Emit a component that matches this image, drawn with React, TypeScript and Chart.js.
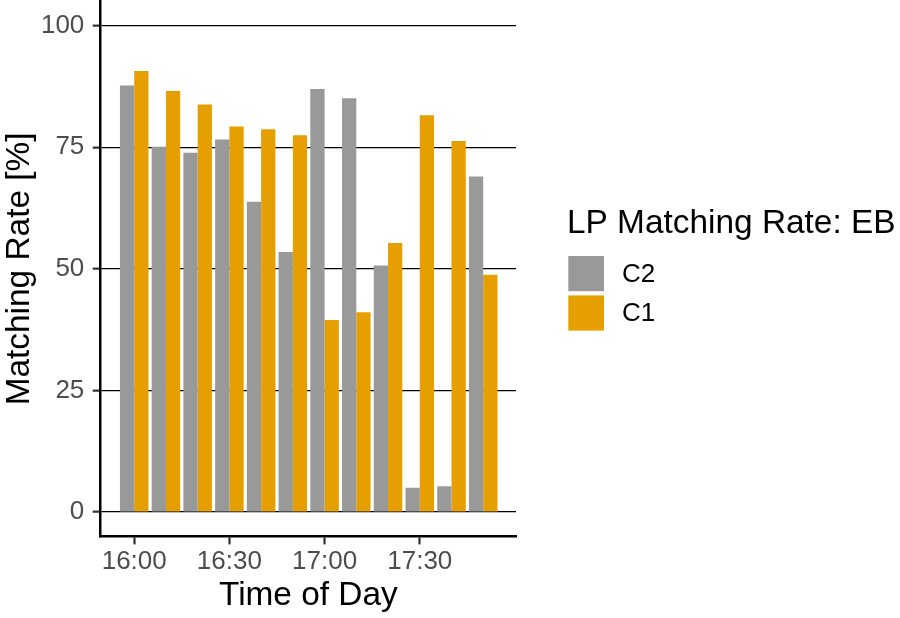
import React, { useEffect, useRef } from 'react';
import { Chart, registerables } from 'chart.js';

Chart.register(...registerables);

// ---- data ----
const times = ['16:00', '16:10', '16:20', '16:30', '16:40', '16:50', '17:00', '17:10', '17:20', '17:30', '17:40', '17:50'];
const c2Values = [87.7, 75.1, 73.9, 76.6, 63.8, 53.5, 87.0, 85.1, 50.7, 5.0, 5.3, 69.0];
const c1Values = [90.7, 86.6, 83.8, 79.3, 78.7, 77.5, 39.5, 41.1, 55.3, 81.6, 76.3, 48.8];
const seriesNames = ['C2', 'C1'];
const seriesColors = ['#999999', '#E69F00'];
const xTickLabels = ['16:00', '16:30', '17:00', '17:30'];
const yTickValues = [0, 25, 50, 75, 100];
const legendTitle = 'LP Matching Rate: EB';
const xTitle = 'Time of Day';
const yTitle = 'Matching Rate [%]';

const FONT = '"Liberation Sans", Arial, Helvetica, sans-serif';
const TITLE_SIZE = 33.4;
const TEXT_SIZE = 26;

const toMinutes = (t: string) => {
  const [h, m] = t.split(':').map(Number);
  return (h - 16) * 60 + m;
};

const sideLegend = {
  id: 'sideLegend',
  afterDraw(chart: any) {
    const { ctx, chartArea } = chart;
    const x0 = chartArea.right + 51;
    const mid = (chartArea.top + chartArea.bottom) / 2;
    ctx.save();
    ctx.textAlign = 'left';
    ctx.fillStyle = '#000000';
    ctx.font = `${TITLE_SIZE}px ${FONT}`;
    ctx.textBaseline = 'alphabetic';
    ctx.fillText(legendTitle, x0, mid - 35.6);
    chart.data.datasets.forEach((ds: any, i: number) => {
      const top = mid - 12.9 + i * 39.4;
      ctx.fillStyle = ds.backgroundColor;
      ctx.fillRect(x0 + 1.3, top, 35.7, 35.2);
      ctx.fillStyle = '#000000';
      ctx.font = `${TEXT_SIZE}px ${FONT}`;
      ctx.textBaseline = 'middle';
      ctx.fillText(ds.label, x0 + 55, top + 18.6);
    });
    ctx.restore();
  },
};

export default function App() {
  const ref = useRef<HTMLCanvasElement>(null);

  useEffect(() => {
    if (!ref.current) return;
    const datasets = [c2Values, c1Values].map((vals, si) => ({
      label: seriesNames[si],
      data: times.map((t, i) => ({ x: toMinutes(t), y: vals[i] })),
      backgroundColor: seriesColors[si],
      borderWidth: 0,
      categoryPercentage: 0.9,
      barPercentage: 1.0,
      yAxisID: 'y',
      xAxisID: 'x',
    }));

    const chart = new Chart(ref.current, {
      type: 'bar',
      data: { datasets },
      plugins: [sideLegend],
      options: {
        animation: false,
        responsive: false,
        devicePixelRatio: 1,
        font: { family: FONT },
        layout: { padding: { top: 1.4, right: 384, bottom: 0, left: 0 } },
        plugins: {
          legend: { display: false },
          tooltip: { enabled: false },
        },
        scales: {
          x: {
            type: 'linear',
            min: -10.56,
            max: 120.33,
            offset: false,
            afterBuildTicks: (scale: any) => {
              scale.ticks = xTickLabels.map((l) => ({ value: toMinutes(l) }));
            },
            afterFit: (scale: any) => {
              scale.height = 81.6;
              scale.paddingLeft = 0;
              scale.paddingRight = 0;
            },
            ticks: {
              autoSkip: false,
              maxRotation: 0,
              color: '#4D4D4D',
              font: { family: FONT, size: TEXT_SIZE },
              padding: 1.5,
              callback: (value: any) => {
                const found = xTickLabels.find((l) => toMinutes(l) === value);
                return found ?? '';
              },
            },
            grid: {
              display: true,
              offset: false,
              drawOnChartArea: false,
              drawTicks: true,
              tickLength: 8,
              tickColor: '#333333',
              tickWidth: 2.2,
            },
            border: { display: true, color: '#000000', width: 2.5 },
            title: {
              display: true,
              text: xTitle,
              color: '#000000',
              font: { family: FONT, size: TITLE_SIZE },
              padding: { top: 0, bottom: 2.5 },
            },
          },
          y: {
            type: 'linear',
            min: -5,
            max: 105,
            afterBuildTicks: (scale: any) => {
              scale.ticks = yTickValues.map((v) => ({ value: v }));
            },
            afterFit: (scale: any) => {
              scale.width = 100.7;
              scale.paddingTop = 0;
              scale.paddingBottom = 0;
            },
            ticks: {
              color: '#4D4D4D',
              font: { family: FONT, size: TEXT_SIZE },
              padding: 8.4,
            },
            grid: {
              display: true,
              drawOnChartArea: true,
              drawTicks: true,
              color: '#000000',
              lineWidth: 1.3,
              tickLength: 8,
              tickColor: '#333333',
              tickWidth: 2.2,
            },
            border: { display: true, color: '#000000', width: 2.5 },
            title: {
              display: true,
              text: yTitle,
              color: '#000000',
              font: { family: FONT, size: TITLE_SIZE },
              padding: { top: 0, bottom: 0 },
            },
          },
        },
      } as any,
    });

    return () => chart.destroy();
  }, []);

  return (
    <div style={{ position: 'absolute', left: 0, top: 0, width: 900, height: 618, background: '#ffffff' }}>
      <canvas ref={ref} width={900} height={618} style={{ width: 900, height: 618, display: 'block' }} />
    </div>
  );
}
